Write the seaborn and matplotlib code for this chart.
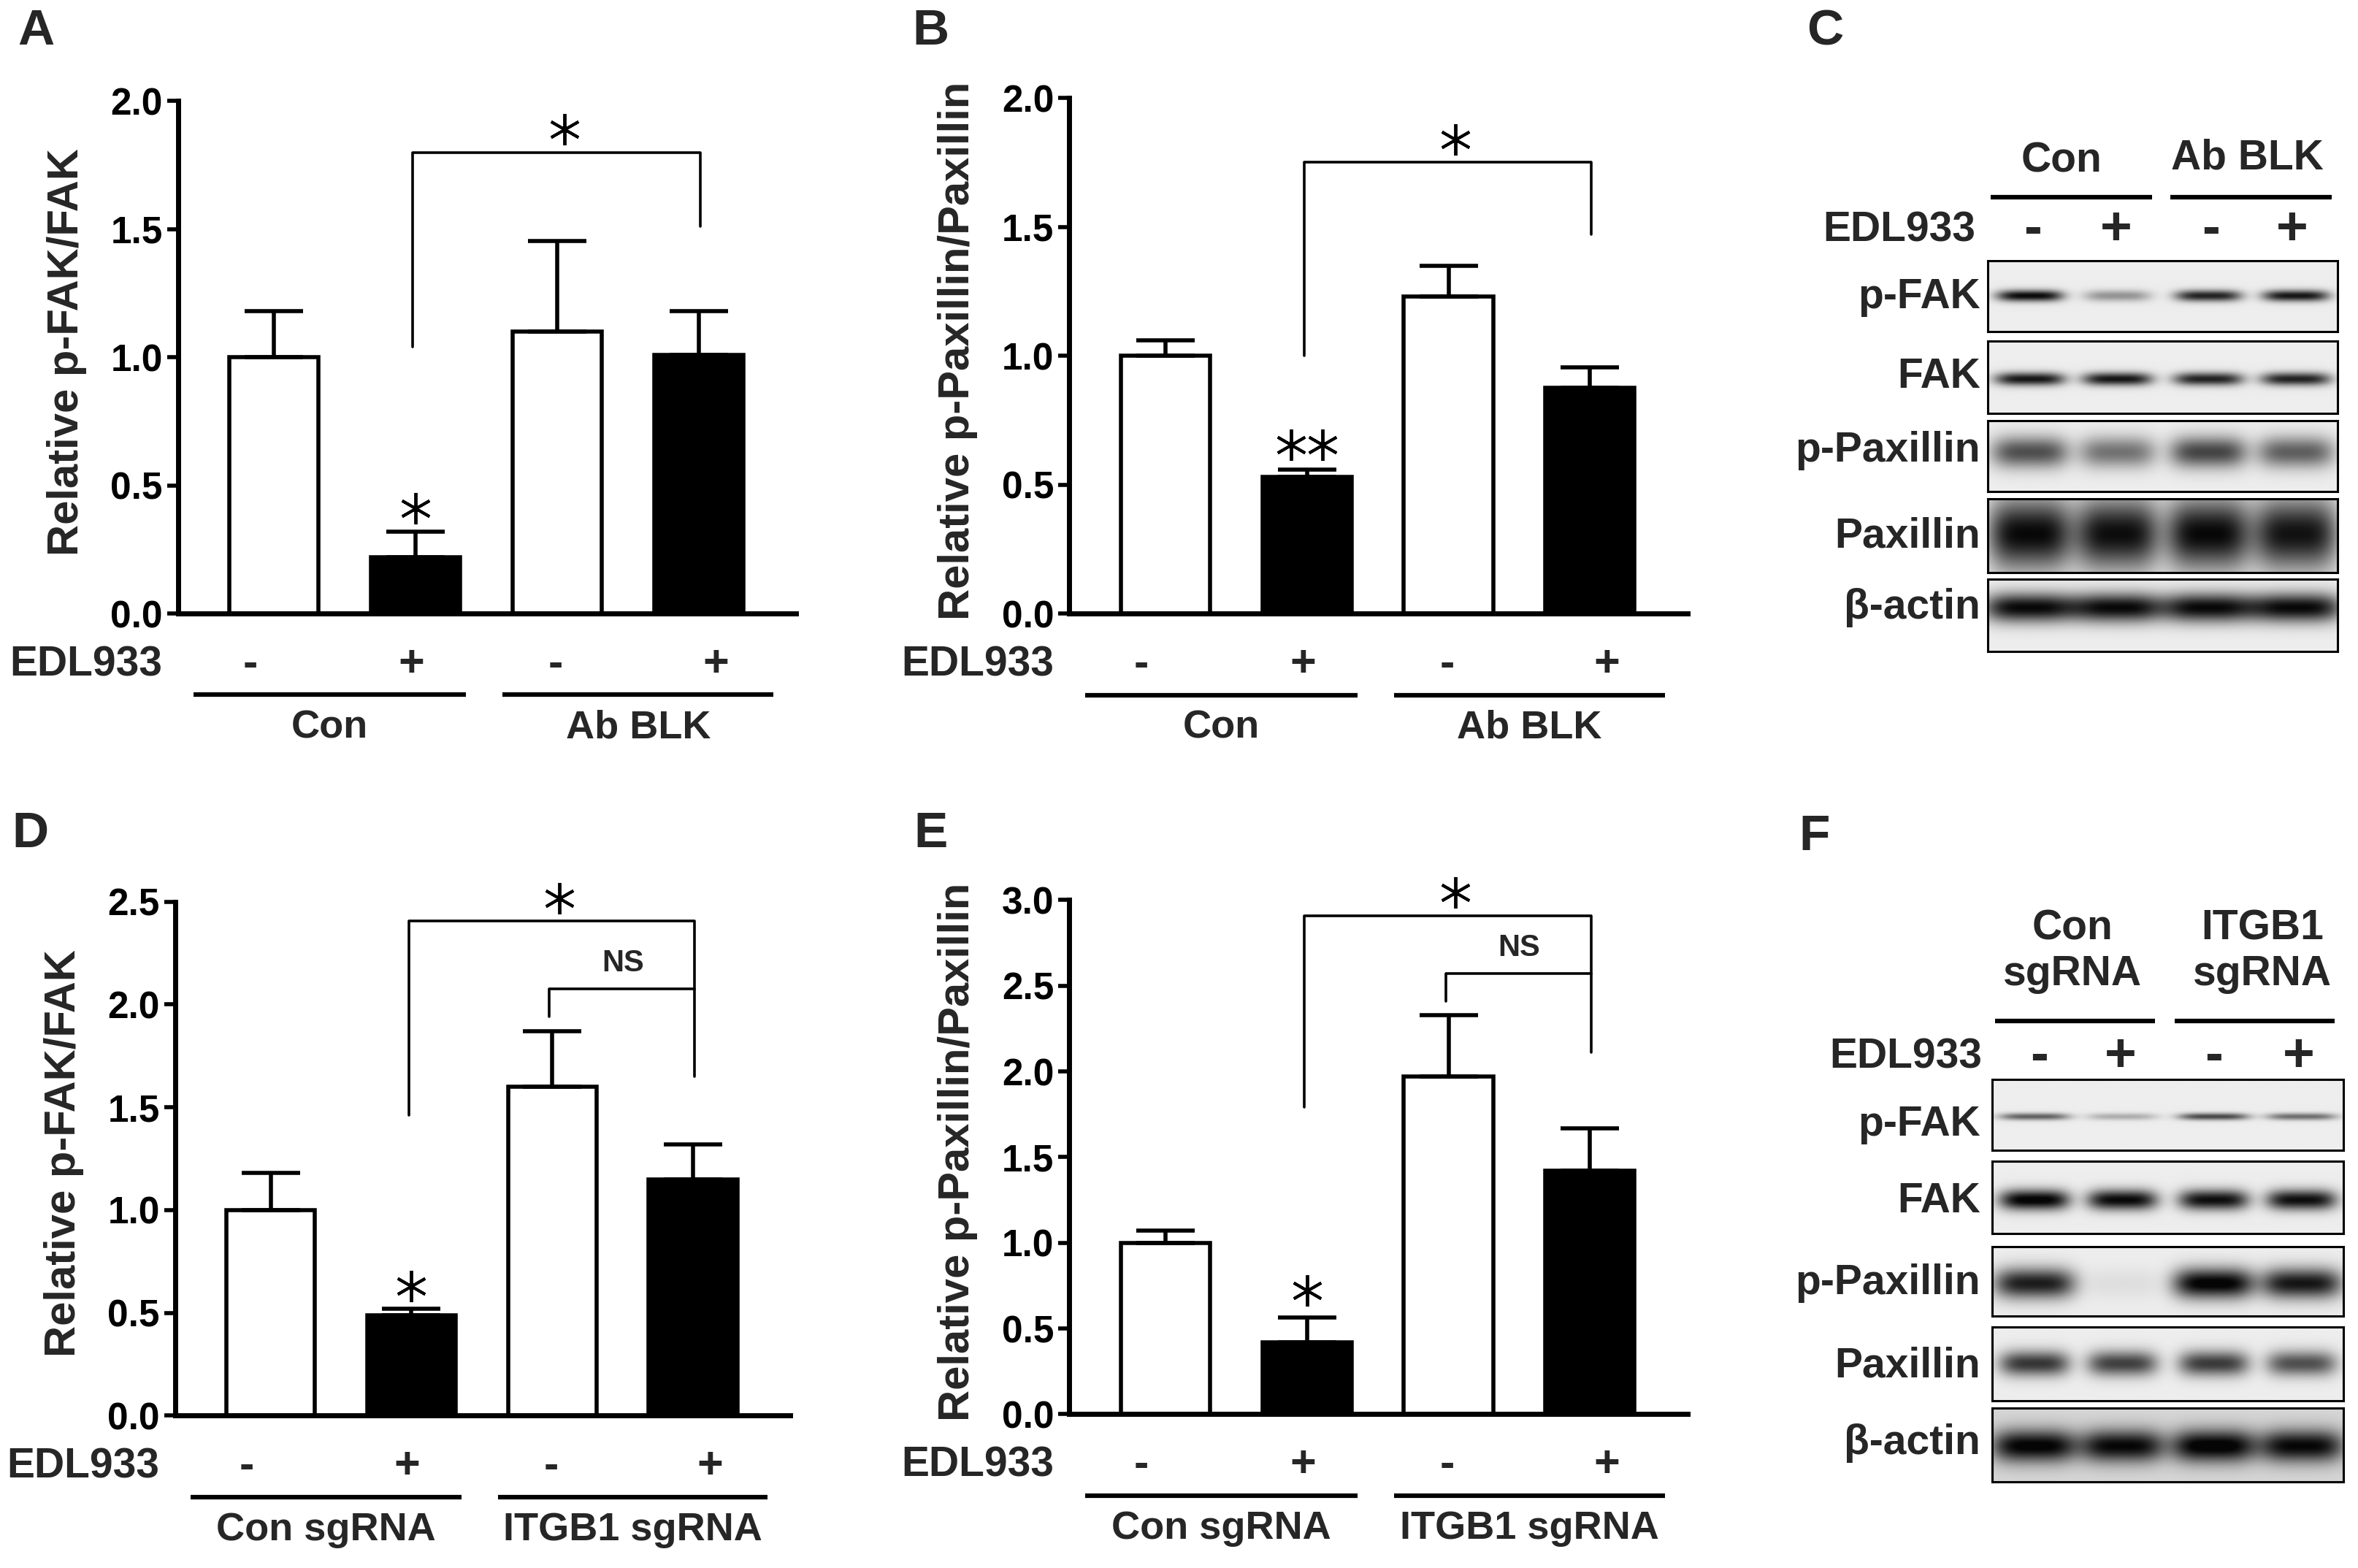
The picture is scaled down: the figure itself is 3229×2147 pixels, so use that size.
import numpy as np
import pandas as pd
import matplotlib
matplotlib.use("Agg")
import matplotlib.pyplot as plt
import matplotlib.transforms as mtransforms
from matplotlib.lines import Line2D
import seaborn as sns

# ---------------- data ----------------
conditions = ["grp1_minus", "grp1_plus", "grp2_minus", "grp2_plus"]
bar_colors = ["white", "black", "white", "black"]
edl_signs = ["-", "+", "-", "+"]

# panel A: relative p-FAK/FAK (Con vs Ab BLK)
a_mean = [1.00, 0.22, 1.10, 1.01]
a_err = [0.18, 0.10, 0.355, 0.17]
# panel B: relative p-Paxillin/Paxillin (Con vs Ab BLK)
b_mean = [1.00, 0.53, 1.23, 0.875]
b_err = [0.06, 0.03, 0.12, 0.08]
# panel D: relative p-FAK/FAK (sgRNA)
d_mean = [1.00, 0.49, 1.60, 1.15]
d_err = [0.18, 0.03, 0.27, 0.17]
# panel E: relative p-Paxillin/Paxillin (sgRNA)
e_mean = [1.00, 0.42, 1.97, 1.42]
e_err = [0.07, 0.145, 0.36, 0.25]

# significance brackets: (left end, top, right end)
a_bracket = (1.04, 1.80, 1.51)
b_bracket = (1.00, 1.75, 1.47)
d_bracket = (1.46, 2.405, 1.65)
e_bracket = (1.79, 2.91, 2.11)
d_ns = (1.94, 2.076)
e_ns = (2.41, 2.57)

# western blot band darkness per lane (0 = none, 1 = black)
blot_rows = ["p-FAK", "FAK", "p-Paxillin", "Paxillin", "β-actin"]
c_pfak = [0.90, 0.35, 0.80, 0.85]
c_fak = [0.85, 0.85, 0.80, 0.80]
c_ppax = [0.62, 0.48, 0.66, 0.56]
c_pax = [0.90, 0.88, 0.90, 0.86]
c_actin = [0.90, 0.90, 0.90, 0.90]
f_pfak = [0.55, 0.25, 0.65, 0.50]
f_fak = [0.95, 0.90, 0.88, 0.88]
f_ppax = [0.82, 0.06, 0.95, 0.85]
f_pax = [0.72, 0.68, 0.70, 0.62]
f_actin = [0.85, 0.82, 0.88, 0.82]

# ---------------- style ----------------
sns.set_theme(style="white")
plt.rcParams["font.family"] = ["Liberation Sans", "DejaVu Sans"]
plt.rcParams["font.weight"] = "bold"
plt.rcParams["axes.labelweight"] = "bold"

W_REF, H_REF = 1564.0, 1040.0
fig = plt.figure(figsize=(32.3, 21.47), dpi=100)
fig.patch.set_facecolor("white")


def box(x0, y0, x1, y1):
    return [x0 / W_REF, 1 - y1 / H_REF, (x1 - x0) / W_REF, (y1 - y0) / H_REF]


def ftext(x, y, s, **kw):
    fig.text(x / W_REF, 1 - y / H_REF, s, **kw)


def fline(x0, x1, y, lw=4.5):
    fig.add_artist(Line2D([x0 / W_REF, x1 / W_REF], [1 - y / H_REF] * 2,
                          color="black", lw=lw, solid_capstyle="butt"))


def star(ax, x, y, size=31):
    ax.plot([x], [y], marker=(6, 2, 0), markersize=size, mew=2.8,
            color="black", clip_on=False, zorder=5)


def bar_panel(rect, means, errs, ymax, ylabel, groups, bracket, bar_star,
              double=False, ns=None):
    ax = fig.add_axes(rect)
    df = pd.DataFrame({"cond": conditions, "value": means})
    sns.barplot(data=df, x="cond", y="value", hue="cond",
                palette=dict(zip(conditions, bar_colors)), edgecolor="black",
                linewidth=4, width=0.63, errorbar=None, legend=False, ax=ax)
    ax.errorbar(range(4), means, yerr=[np.zeros(4), errs], fmt="none",
                ecolor="black", elinewidth=4, capsize=29, capthick=4, zorder=1)
    ax.set_xlim(-0.68, 3.69)
    ax.set_ylim(0, ymax)
    ticks = np.arange(0, ymax + 0.01, 0.5)
    ax.set_yticks(ticks)
    ax.set_yticklabels([f"{t:.1f}" for t in ticks], fontsize=37, fontweight="bold")
    ax.set_xticks([])
    ax.set_xlabel("")
    ax.set_ylabel("")
    for side in ["top", "right"]:
        ax.spines[side].set_visible(False)
    for side in ["left", "bottom"]:
        ax.spines[side].set_linewidth(5)
        ax.spines[side].set_color("black")
    ax.tick_params(axis="y", length=11, width=4, direction="out", pad=4,
                   colors="black", left=True)
    ax.text(-0.18, 0.51, ylabel, transform=ax.transAxes, rotation=90,
            ha="center", va="center", fontsize=43, fontweight="bold")

    trans = mtransforms.blended_transform_factory(ax.transData, ax.transAxes)
    for x, s in zip([-0.17, 0.97, 1.99, 3.12], edl_signs):
        ax.text(x, -0.10, s, transform=trans, ha="center", va="center",
                fontsize=44)
    ax.text(-0.79, -0.10, "EDL933", transform=trans, ha="right", va="center",
            fontsize=41)
    for (lx0, lx1), g in zip([(-0.57, 1.355), (1.615, 3.53)], groups):
        ax.plot([lx0, lx1], [-0.158, -0.158], transform=trans, color="black",
                lw=4.5, clip_on=False, solid_capstyle="butt")
        ax.text((lx0 + lx1) / 2, -0.222, g, transform=trans, ha="center",
                va="center", fontsize=39)

    left_end, top, right_end = bracket
    ax.plot([0.98, 0.98, 3.01, 3.01], [left_end, top, top, right_end],
            color="black", lw=2.6, clip_on=False)
    star(ax, 2.05, top + ymax * 0.045)
    if ns is not None:
        ns_end, ns_top = ns
        ax.plot([1.98, 1.98, 3.01], [ns_end, ns_top, ns_top], color="black",
                lw=2.6, clip_on=False)
        ax.text(2.5, ns_top + ymax * 0.05, "NS", ha="center", va="center",
                fontsize=30)
    if double:
        star(ax, 0.89, bar_star)
        star(ax, 1.11, bar_star)
    else:
        star(ax, 1.0, bar_star)
    return ax


bar_panel(box(118, 67, 528, 407), a_mean, a_err, 2.0, "Relative p-FAK/FAK",
          ["Con", "Ab BLK"], a_bracket, 0.41)
bar_panel(box(709, 65, 1119, 407), b_mean, b_err, 2.0,
          "Relative p-Paxillin/Paxillin", ["Con", "Ab BLK"], b_bracket, 0.655,
          double=True)
bar_panel(box(116, 598, 524, 939), d_mean, d_err, 2.5, "Relative p-FAK/FAK",
          ["Con sgRNA", "ITGB1 sgRNA"], d_bracket, 0.63, ns=d_ns)
bar_panel(box(709, 597, 1119, 938), e_mean, e_err, 3.0,
          "Relative p-Paxillin/Paxillin", ["Con sgRNA", "ITGB1 sgRNA"],
          e_bracket, 0.72, ns=e_ns)

# ---------------- western blots ----------------
lane_pos = [0.12, 0.37, 0.63, 0.88]


def blot_image(dark, yc, h, w, bg):
    xs = np.linspace(0, 1, 460)
    ys = np.linspace(0, 1, 120)
    img = np.full((ys.size, xs.size), bg)
    fy = np.exp(-((ys - yc) / h) ** 2)[:, None]
    for c, d in zip(lane_pos, dark):
        fx = np.exp(-np.abs((xs - c) / w) ** 4)[None, :]
        img = img - d * fx * fy
    return np.clip(img, 0.02, 1)


def blot_panel(x0, x1, row_boxes, label_y, darks, shapes, bgs):
    for (y0, y1), ly, lab, dark, (yc, h, w), bg in zip(row_boxes, label_y,
                                                       blot_rows, darks, shapes, bgs):
        ax = fig.add_axes(box(x0, y0, x1, y1))
        ax.imshow(blot_image(dark, yc, h, w, bg), cmap="gray", vmin=0, vmax=1,
                  aspect="auto", extent=[0, 1, 0, 1], interpolation="bilinear")
        ax.set_xticks([])
        ax.set_yticks([])
        for s in ax.spines.values():
            s.set_linewidth(2.2)
            s.set_color("black")
        ftext(1313, ly, lab, ha="right", va="center", fontsize=41)


# panel C
c_rows = [(173, 220), (226, 274), (279, 326), (331, 380), (384, 432)]
blot_panel(1318, 1550, c_rows, [197, 250, 299, 356, 403],
           [c_pfak, c_fak, c_ppax, c_pax, c_actin],
           [(0.50, 0.08, 0.095), (0.53, 0.09, 0.10), (0.45, 0.22, 0.11),
            (0.48, 0.48, 0.12), (0.40, 0.20, 0.13)],
           [0.93, 0.93, 0.93, 0.93, 0.93])
ftext(1367, 107, "Con", ha="center", va="center", fontsize=41)
ftext(1490, 105, "Ab BLK", ha="center", va="center", fontsize=41)
fline(1320, 1427, 131)
fline(1439, 1546, 131)
ftext(1310, 153, "EDL933", ha="right", va="center", fontsize=41)
for x, s in zip([1348, 1403, 1466, 1520], edl_signs):
    ftext(x, 153, s, ha="center", va="center", fontsize=54)

# panel F
f_rows = [(716, 763), (770, 818), (827, 873), (880, 929), (934, 983)]
blot_panel(1321, 1554, f_rows, [746, 797, 851, 906, 957],
           [f_pfak, f_fak, f_ppax, f_pax, f_actin],
           [(0.53, 0.05, 0.10), (0.54, 0.14, 0.10), (0.53, 0.22, 0.115),
            (0.50, 0.17, 0.10), (0.52, 0.22, 0.12)],
           [0.93, 0.93, 0.93, 0.93, 0.84])
ftext(1374, 631, "Con\nsgRNA", ha="center", va="center", fontsize=41,
      linespacing=1.2, multialignment="center")
ftext(1500, 631, "ITGB1\nsgRNA", ha="center", va="center", fontsize=41,
      linespacing=1.2, multialignment="center")
fline(1323, 1429, 677)
fline(1442, 1548, 677)
ftext(1314, 701, "EDL933", ha="right", va="center", fontsize=41)
for x, s in zip([1352, 1406, 1468, 1524], edl_signs):
    ftext(x, 701, s, ha="center", va="center", fontsize=54)

# panel letters
for letter, (x, y) in zip("ABCDEF", [(24, 21), (617, 21), (1210, 21),
                                     (20, 553), (617, 553), (1203, 555)]):
    ftext(x, y, letter, ha="center", va="center", fontsize=50, fontweight="bold")

fig.savefig("out.png", dpi=100, facecolor="white")
